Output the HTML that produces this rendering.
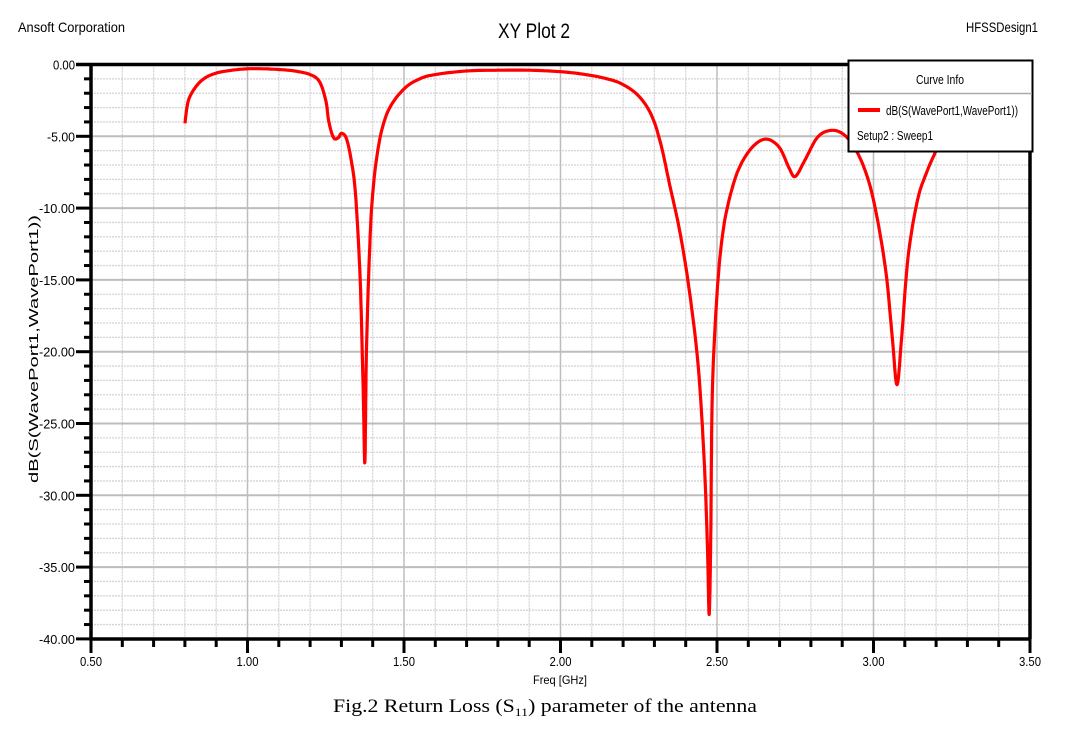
<!DOCTYPE html>
<html><head><meta charset="utf-8"><style>
body{margin:0;background:#fff;width:1068px;height:734px;overflow:hidden}
svg{display:block}
text{font-family:"Liberation Sans",sans-serif;}
</style></head><body>
<svg id="s" width="1068" height="734" xmlns="http://www.w3.org/2000/svg">
<g id="min" stroke="#d6d2da" stroke-width="1.3" stroke-dasharray="2 1"></g>
<g id="maj" stroke="#bdbdbd" stroke-width="2"></g>
<g id="ax" stroke="#000" stroke-width="3.5" fill="none">
<path d="M76 64.5H1030V639M91 64.5V639H1030"/>
</g>
<g id="ticks" stroke="#000" stroke-width="3"></g>
<g id="lbl" font-size="13" fill="#000"></g>
<text x="18" y="32" font-size="14" textLength="107" lengthAdjust="spacingAndGlyphs">Ansoft Corporation</text>
<text x="498" y="38" font-size="21" textLength="72" lengthAdjust="spacingAndGlyphs">XY Plot 2</text>
<text x="966" y="32" font-size="14" textLength="72" lengthAdjust="spacingAndGlyphs">HFSSDesign1</text>
<text x="533" y="684" font-size="12" textLength="54" lengthAdjust="spacingAndGlyphs">Freq [GHz]</text>
<text transform="translate(38,483) rotate(-90)" font-size="13" textLength="268" lengthAdjust="spacingAndGlyphs">dB(S(WavePort1,WavePort1))</text>
<text x="333" y="712" font-size="19" textLength="424" lengthAdjust="spacingAndGlyphs" style="font-family:'Liberation Serif',serif">Fig.2 Return Loss (S<tspan font-size="12" dy="4">11</tspan><tspan dy="-4">) parameter of the antenna</tspan></text>
<path id="c" fill="none" stroke="#f00" stroke-width="3.2" stroke-linejoin="round"/>
<rect x="848.5" y="60.5" width="184" height="91" fill="#fff" stroke="#000" stroke-width="2"/>
<line x1="849" y1="93.5" x2="1032" y2="93.5" stroke="#aaa" stroke-width="1.5"/>
<text x="916" y="84" font-size="12.5" textLength="48" lengthAdjust="spacingAndGlyphs">Curve Info</text>
<line x1="858" y1="110" x2="880" y2="110" stroke="#f00" stroke-width="4"/>
<text x="886" y="115" font-size="12.5" textLength="132" lengthAdjust="spacingAndGlyphs">dB(S(WavePort1,WavePort1))</text>
<text x="857" y="140" font-size="12.5" textLength="76" lengthAdjust="spacingAndGlyphs">Setup2 : Sweep1</text>
</svg>
<script>
const X=f=>91+(f-0.5)*313, Y=d=>64.5-d*14.36;
const NS="http://www.w3.org/2000/svg";
function el(p,t,a,txt){const e=document.createElementNS(NS,t);for(const k in a)e.setAttribute(k,a[k]);if(txt)e.textContent=txt;document.getElementById(p).appendChild(e);}
for(let d=-1;d>-40;d--)if(d%5)el("min","line",{x1:91,x2:1030,y1:Y(d),y2:Y(d)});
for(let i=1;i<30;i++)if(i%5)el("min","line",{x1:X(0.5+i*0.1),x2:X(0.5+i*0.1),y1:64.5,y2:639});
for(let d=-5;d>-40;d-=5)el("maj","line",{x1:91,x2:1030,y1:Y(d),y2:Y(d)});
for(let f=1;f<3.5;f+=0.5)el("maj","line",{x1:X(f),x2:X(f),y1:64.5,y2:639,"stroke-width":1.5});
for(let d=0;d>=-40;d--){const m=d%5==0;el("ticks","line",{x1:m?76:84,x2:91,y1:Y(d),y2:Y(d)});if(m)el("lbl","text",{x:75,y:Y(d)+5,"text-anchor":"end",textLength:d==0?22:(d>-10?28:36),lengthAdjust:"spacingAndGlyphs"},d==0?"0.00":d.toFixed(2));}
for(let i=0;i<=30;i++){const f=0.5+i*0.1,m=i%5==0;el("ticks","line",{x1:X(f),x2:X(f),y1:639,y2:m?653:647});if(m)el("lbl","text",{x:X(f)-11,y:666,textLength:22,lengthAdjust:"spacingAndGlyphs"},f.toFixed(2));}
const P=[[0.8,-4.1],[0.81,-2.6],[0.83,-1.7],[0.86,-1.0],[0.9,-0.6],[0.95,-0.4],[1.0,-0.3],[1.05,-0.3],[1.1,-0.35],[1.15,-0.45],[1.2,-0.7],[1.23,-1.2],[1.25,-2.5],[1.26,-4],[1.275,-5.1],[1.29,-5.1],[1.3,-4.8],[1.315,-5.1],[1.33,-6.5],[1.345,-9],[1.36,-15],[1.37,-23],[1.375,-27.7],[1.38,-20],[1.39,-13],[1.4,-9],[1.42,-5.5],[1.45,-3.2],[1.5,-1.7],[1.55,-1.0],[1.6,-0.7],[1.7,-0.45],[1.8,-0.4],[1.9,-0.4],[2.0,-0.5],[2.08,-0.7],[2.15,-1.0],[2.2,-1.4],[2.25,-2.2],[2.29,-3.5],[2.32,-5.5],[2.35,-8.5],[2.38,-11.5],[2.41,-15.5],[2.44,-21],[2.46,-28],[2.47,-34],[2.475,-38.3],[2.48,-33],[2.485,-23],[2.5,-16],[2.52,-11.5],[2.55,-8.5],[2.58,-6.8],[2.62,-5.6],[2.66,-5.2],[2.7,-5.8],[2.73,-7.2],[2.75,-7.8],[2.78,-6.7],[2.82,-5.1],[2.86,-4.6],[2.9,-4.8],[2.94,-5.8],[2.98,-7.8],[3.01,-10.5],[3.04,-14.5],[3.06,-19],[3.075,-22.3],[3.09,-19],[3.11,-13.5],[3.14,-9.5],[3.17,-7.5],[3.2,-6]];
let d="";
for(let i=0;i<P.length-1;i++){const p0=P[Math.max(i-1,0)],p1=P[i],p2=P[i+1],p3=P[Math.min(i+2,P.length-1)];
for(let t=0;t<1;t+=0.1){const t2=t*t,t3=t2*t;const c=(a,b,c_,e)=>0.5*((2*b)+(-a+c_)*t+(2*a-5*b+4*c_-e)*t2+(-a+3*b-3*c_+e)*t3);
const f=c(p0[0],p1[0],p2[0],p3[0]),v=c(p0[1],p1[1],p2[1],p3[1]);d+=(d?"L":"M")+X(f).toFixed(1)+" "+Y(v).toFixed(1);}}
d+="L"+X(3.2)+" "+Y(-6);
document.getElementById("c").setAttribute("d",d);
</script>
</body></html>
